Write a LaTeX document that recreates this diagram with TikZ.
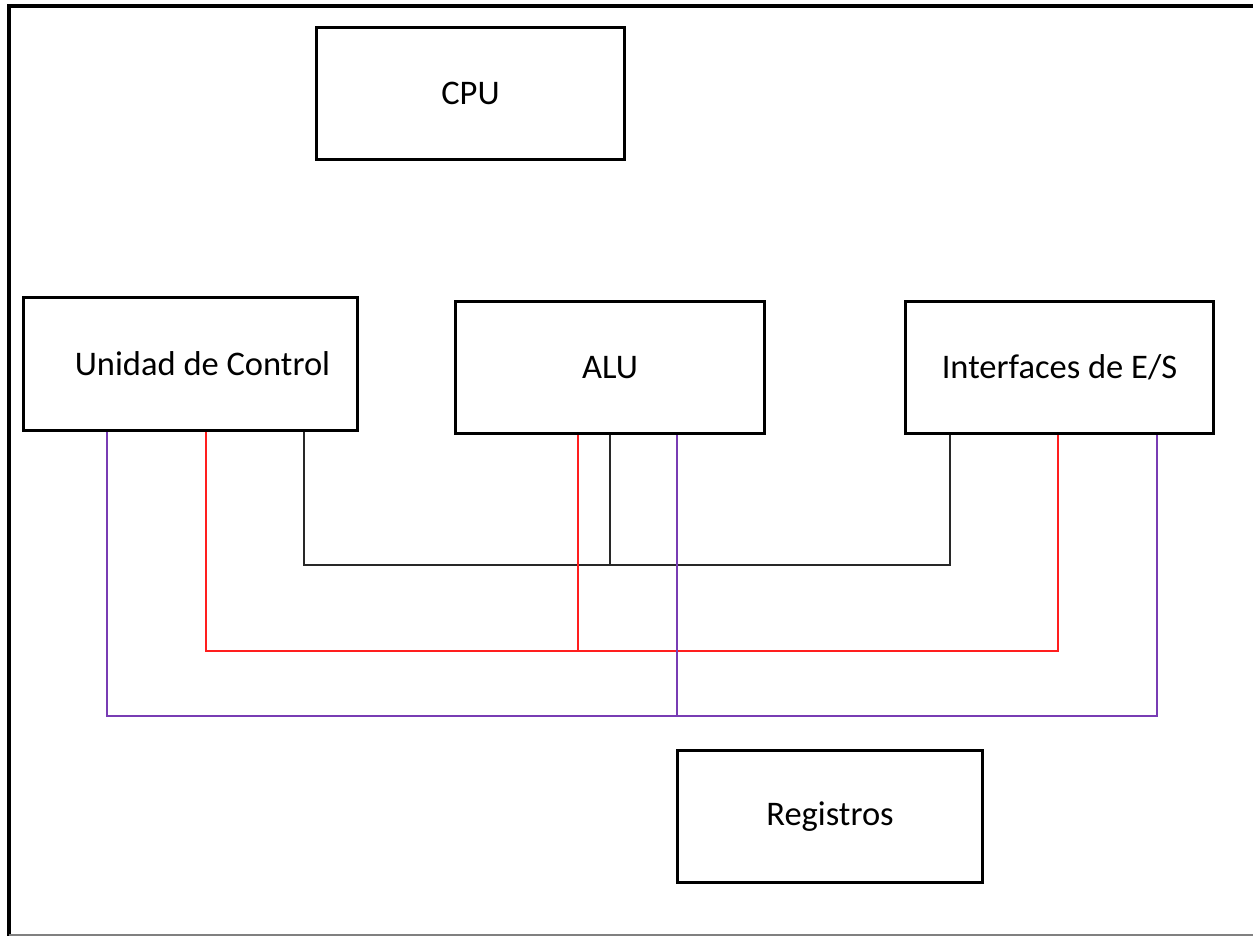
\documentclass[tikz,border=0pt]{standalone}
\usepackage{fontspec}
\setmainfont{Carlito}
\definecolor{busred}{RGB}{255,30,30}
\definecolor{buspurple}{RGB}{120,60,180}
\definecolor{busblack}{RGB}{40,40,40}
\begin{document}
\begin{tikzpicture}[x=1pt,y=-1pt,
  unit/.style={draw,line width=3.5pt,rectangle,inner sep=0pt,font=\fontsize{34.5}{40}\selectfont},
  bus/.style={line width=1.4pt}]
\useasboundingbox (0,0) rectangle (1253,936);
% frame
\draw[line width=4pt] (9,936) -- (9,6) -- (1253,6);
\draw[line width=1.2pt,gray] (9,935) -- (1253,935);
% units
\node[unit,minimum width=308pt,minimum height=132pt] (cpu) at (470.5,93.5) {CPU};
\node[unit,minimum width=334pt,minimum height=133pt] (uc) at (190.5,364) {\hspace*{24pt}Unidad de Control};
\node[unit,minimum width=309pt,minimum height=132pt] (alu) at (610,367.5) {ALU};
\node[unit,minimum width=308pt,minimum height=132pt] (io) at (1059.5,367.5) {Interfaces de E/S};
\node[unit,minimum width=305pt,minimum height=132pt] (reg) at (830,816.5) {Registros};
% bus junction coordinates
\coordinate (jb) at (610,565);
\coordinate (jr) at (578,651);
\coordinate (jp) at (677,716);
% black bus
\draw[bus,busblack] (uc.south -| 304,0) |- (jb) -| (io.south -| 950,0);
\draw[bus,busblack] (alu.south -| jb) -- (jb);
% red bus
\draw[bus,busred] (uc.south -| 206,0) |- (jr) -| (io.south -| 1058,0);
\draw[bus,busred] (alu.south -| jr) -- (jr);
% purple bus
\draw[bus,buspurple] (uc.south -| 107,0) |- (jp) -| (io.south -| 1157,0);
\draw[bus,buspurple] (alu.south -| jp) -- (jp);
\end{tikzpicture}
\end{document}
